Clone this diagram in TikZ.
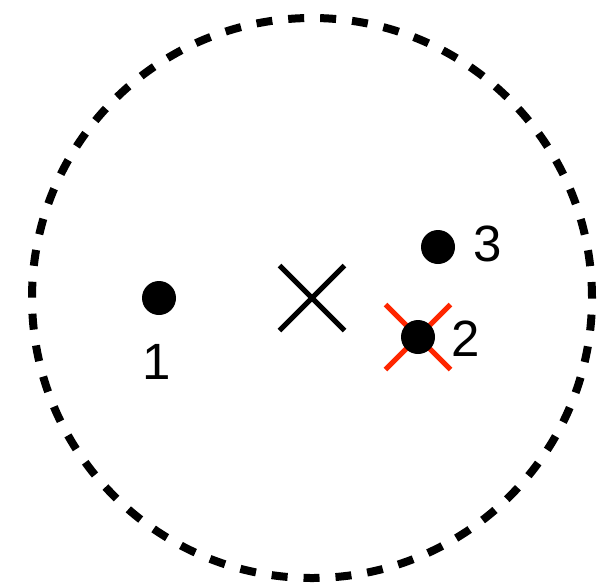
\documentclass[tikz,border=0pt]{standalone}
\usepackage{fontspec}
\setmainfont{Liberation Sans}
\usetikzlibrary{shapes.misc}
\definecolor{crossred}{RGB}{255,38,0}
\begin{document}
\begin{tikzpicture}[x=1pt,y=-1pt,
  dot/.style={circle,fill=black,inner sep=0pt,minimum size=34pt},
  xmark/.style={cross out,draw,line width=5pt,inner sep=0pt,minimum size=60pt},
  lbl/.style={inner sep=0pt,font=\fontsize{51}{60}\selectfont}]
\useasboundingbox (0,0) rectangle (599,582);
\coordinate (c) at (312,298);
\draw[line width=8pt,dash pattern=on 16pt off 15.98pt] (c) circle[radius=280pt];
\node[xmark] (centre) at (c) {};
\node[xmark,draw=crossred] (miss) at (418,337) {};
\node[dot] (p1) at (159,298) {};
\node[dot] (p2) at (418,337) {};
\node[dot] (p3) at (438,247) {};
\node[lbl] (l1) at (157,362) {1};
\node[lbl] (l2) at (466,338.5) {2};
\node[lbl] (l3) at (487.5,243.5) {3};
\end{tikzpicture}
\end{document}
